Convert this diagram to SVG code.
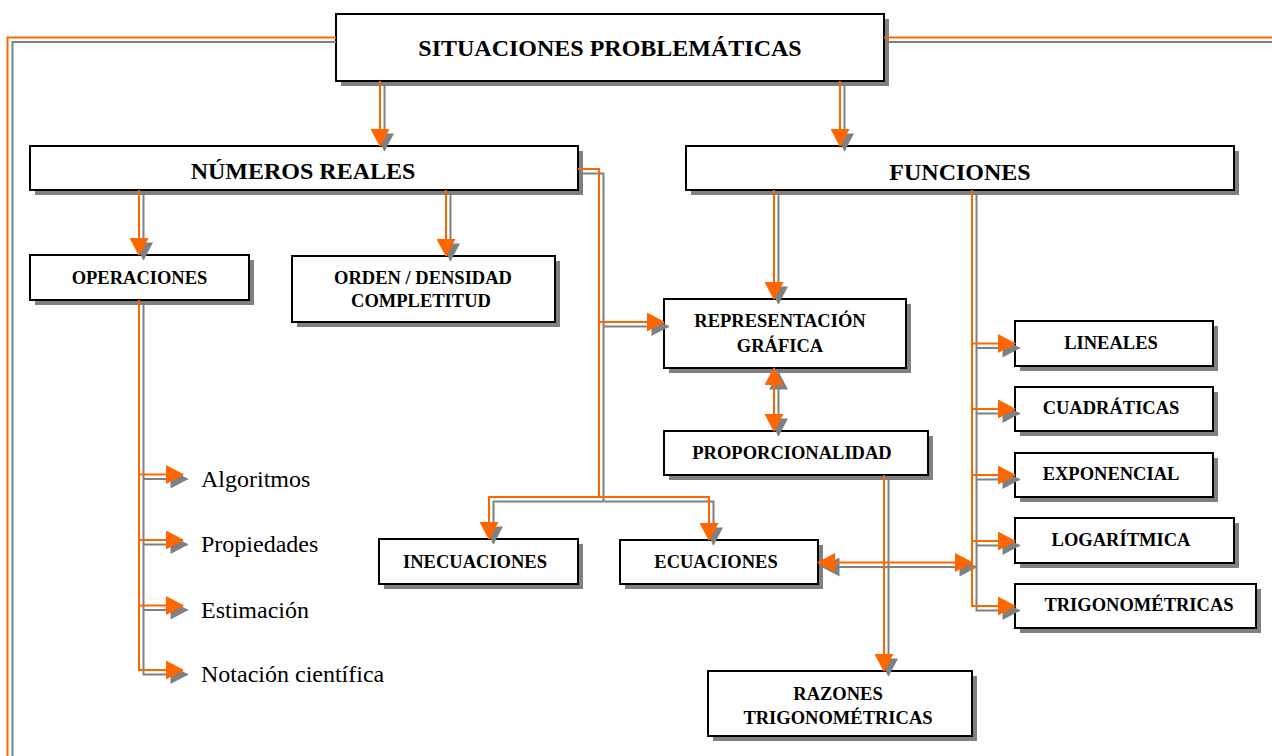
<svg xmlns="http://www.w3.org/2000/svg" width="1272" height="756" viewBox="0 0 1272 756">
<style>
.box{fill:#fff;stroke:#000;stroke-width:2}
.sh{fill:#808080}
.t{font-family:"Liberation Serif","Times New Roman",serif;font-weight:bold;fill:#000;text-anchor:middle}
.big{font-size:24px}
.sm{font-size:18.5px}
.it{font-family:"Liberation Serif","Times New Roman",serif;font-size:24px;fill:#000}
.o{fill:none;stroke:#FF6600;stroke-width:2}
.g{fill:none;stroke:#808080;stroke-width:2}
.o.a{marker-end:url(#ao)}
.o.d{marker-start:url(#ao);marker-end:url(#ao)}
.g.a{marker-end:url(#ag)}
.g.d{marker-start:url(#ag);marker-end:url(#ag)}
</style>
<defs>
<marker id="ao" markerUnits="userSpaceOnUse" markerWidth="19" markerHeight="19" viewBox="0 0 18 19" refX="17" refY="9.5" orient="auto-start-reverse"><path d="M0,0 L18,9.5 L0,19z" fill="#FF6600"/></marker>
<marker id="ag" markerUnits="userSpaceOnUse" markerWidth="19" markerHeight="19" viewBox="0 0 18 19" refX="17" refY="9.5" orient="auto-start-reverse"><path d="M0,0 L18,9.5 L0,19z" fill="#808080"/></marker>
</defs>
<rect width="1272" height="756" fill="#fff"/>

<g id="n-situaciones"><rect class="sh" x="341" y="19" width="548" height="67"/><rect class="box" x="336" y="14" width="548" height="67"/><text class="t big" x="610" y="55.5">SITUACIONES PROBLEMÁTICAS</text></g>
<g id="n-numeros"><rect class="sh" x="35" y="151" width="548" height="44"/><rect class="box" x="30" y="146" width="548" height="44"/><text class="t big" x="303" y="179">NÚMEROS REALES</text></g>
<g id="n-funciones"><rect class="sh" x="691" y="151" width="548" height="44"/><rect class="box" x="686" y="146" width="548" height="44"/><text class="t big" x="960" y="180">FUNCIONES</text></g>
<g id="n-operaciones"><rect class="sh" x="35" y="260" width="219" height="45"/><rect class="box" x="30" y="255" width="219" height="45"/><text class="t sm" x="139.5" y="284">OPERACIONES</text></g>
<g id="n-orden"><rect class="sh" x="297" y="261" width="263" height="66"/><rect class="box" x="292" y="256" width="263" height="66"/><text class="t sm" x="423" y="284">ORDEN / DENSIDAD</text><text class="t sm" x="421" y="307">COMPLETITUD</text></g>
<g id="n-representacion"><rect class="sh" x="669" y="304" width="242" height="69"/><rect class="box" x="664" y="299" width="242" height="69"/><text class="t sm" x="780" y="327">REPRESENTACIÓN</text><text class="t sm" x="780" y="352">GRÁFICA</text></g>
<g id="n-proporcionalidad"><rect class="sh" x="669" y="436" width="264" height="44"/><rect class="box" x="664" y="431" width="264" height="44"/><text class="t sm" x="792" y="459">PROPORCIONALIDAD</text></g>
<g id="n-inecuaciones"><rect class="sh" x="384" y="544" width="199" height="45"/><rect class="box" x="379" y="539" width="199" height="45"/><text class="t sm" x="475" y="567.5">INECUACIONES</text></g>
<g id="n-ecuaciones"><rect class="sh" x="625" y="545" width="198" height="44"/><rect class="box" x="620" y="540" width="198" height="44"/><text class="t sm" x="716" y="567.5">ECUACIONES</text></g>
<g id="n-razones"><rect class="sh" x="713" y="676" width="264" height="65"/><rect class="box" x="708" y="671" width="264" height="65"/><text class="t sm" x="838" y="700">RAZONES</text><text class="t sm" x="838" y="724">TRIGONOMÉTRICAS</text></g>
<g id="n-lineales"><rect class="sh" x="1020" y="326" width="198" height="45"/><rect class="box" x="1015" y="321" width="198" height="45"/><text class="t sm" x="1111" y="349">LINEALES</text></g>
<g id="n-cuadraticas"><rect class="sh" x="1020" y="392" width="198" height="44"/><rect class="box" x="1015" y="387" width="198" height="44"/><text class="t sm" x="1111" y="414">CUADRÁTICAS</text></g>
<g id="n-exponencial"><rect class="sh" x="1020" y="458" width="198" height="44"/><rect class="box" x="1015" y="453" width="198" height="44"/><text class="t sm" x="1111" y="480">EXPONENCIAL</text></g>
<g id="n-logaritmica"><rect class="sh" x="1020" y="523" width="219" height="45"/><rect class="box" x="1015" y="518" width="219" height="45"/><text class="t sm" x="1121" y="545.5">LOGARÍTMICA</text></g>
<g id="n-trigonometricas"><rect class="sh" x="1020" y="589" width="241" height="44"/><rect class="box" x="1015" y="584" width="241" height="44"/><text class="t sm" x="1139" y="611">TRIGONOMÉTRICAS</text></g>
<g id="n-algoritmos"><text class="it" x="201" y="486.5">Algoritmos</text></g>
<g id="n-propiedades"><text class="it" x="201" y="552">Propiedades</text></g>
<g id="n-estimacion"><text class="it" x="201" y="617.5">Estimación</text></g>
<g id="n-notacion"><text class="it" x="201" y="682">Notación científica</text></g>

<g id="connectors">
<g id="shadow">
<path class="g" d="M336,42 H12.5 V756"/>
<path class="g" d="M889,42 H1272"/>
<g transform="translate(4.5,4.5)">
<path class="g a" d="M380,81 V146"/>
<path class="g a" d="M840,81 V146"/>
<path class="g a" d="M139,190 V255"/>
<path class="g a" d="M446,190 V256"/>
<path class="g" d="M578,169 H599 V497"/>
<path class="g a" d="M599,322 H664"/>
<path class="g a" d="M599,497 H489 V539"/>
<path class="g a" d="M599,497 H709 V540"/>
<path class="g a" d="M774,190 V299"/>
<path class="g d" d="M774,368 V431"/>
<path class="g a" d="M884,475 V671"/>
<path class="g d" d="M818,562.5 H972"/>
<path class="g a" d="M972,190 V606 H1015"/>
<path class="g a" d="M972,343.5 H1015"/>
<path class="g a" d="M972,409 H1015"/>
<path class="g a" d="M972,475 H1015"/>
<path class="g a" d="M972,541 H1015"/>
<path class="g a" d="M139,300 V670 H183"/>
<path class="g a" d="M139,474.5 H183"/>
<path class="g a" d="M139,540 H183"/>
<path class="g a" d="M139,605.5 H183"/>
</g>
</g>
<g id="main">
<path class="o" d="M336,37.5 H7.5 V756"/>
<path class="o" d="M884,37.5 H1272"/>
<path class="o a" d="M380,81 V146"/>
<path class="o a" d="M840,81 V146"/>
<path class="o a" d="M139,190 V255"/>
<path class="o a" d="M446,190 V256"/>
<path class="o" d="M578,169 H599 V497"/>
<path class="o a" d="M599,322 H664"/>
<path class="o a" d="M599,497 H489 V539"/>
<path class="o a" d="M599,497 H709 V540"/>
<path class="o a" d="M774,190 V299"/>
<path class="o d" d="M774,368 V431"/>
<path class="o a" d="M884,475 V671"/>
<path class="o d" d="M818,562.5 H972"/>
<path class="o a" d="M972,190 V606 H1015"/>
<path class="o a" d="M972,343.5 H1015"/>
<path class="o a" d="M972,409 H1015"/>
<path class="o a" d="M972,475 H1015"/>
<path class="o a" d="M972,541 H1015"/>
<path class="o a" d="M139,300 V670 H183"/>
<path class="o a" d="M139,474.5 H183"/>
<path class="o a" d="M139,540 H183"/>
<path class="o a" d="M139,605.5 H183"/>
</g>
</g>
</svg>
